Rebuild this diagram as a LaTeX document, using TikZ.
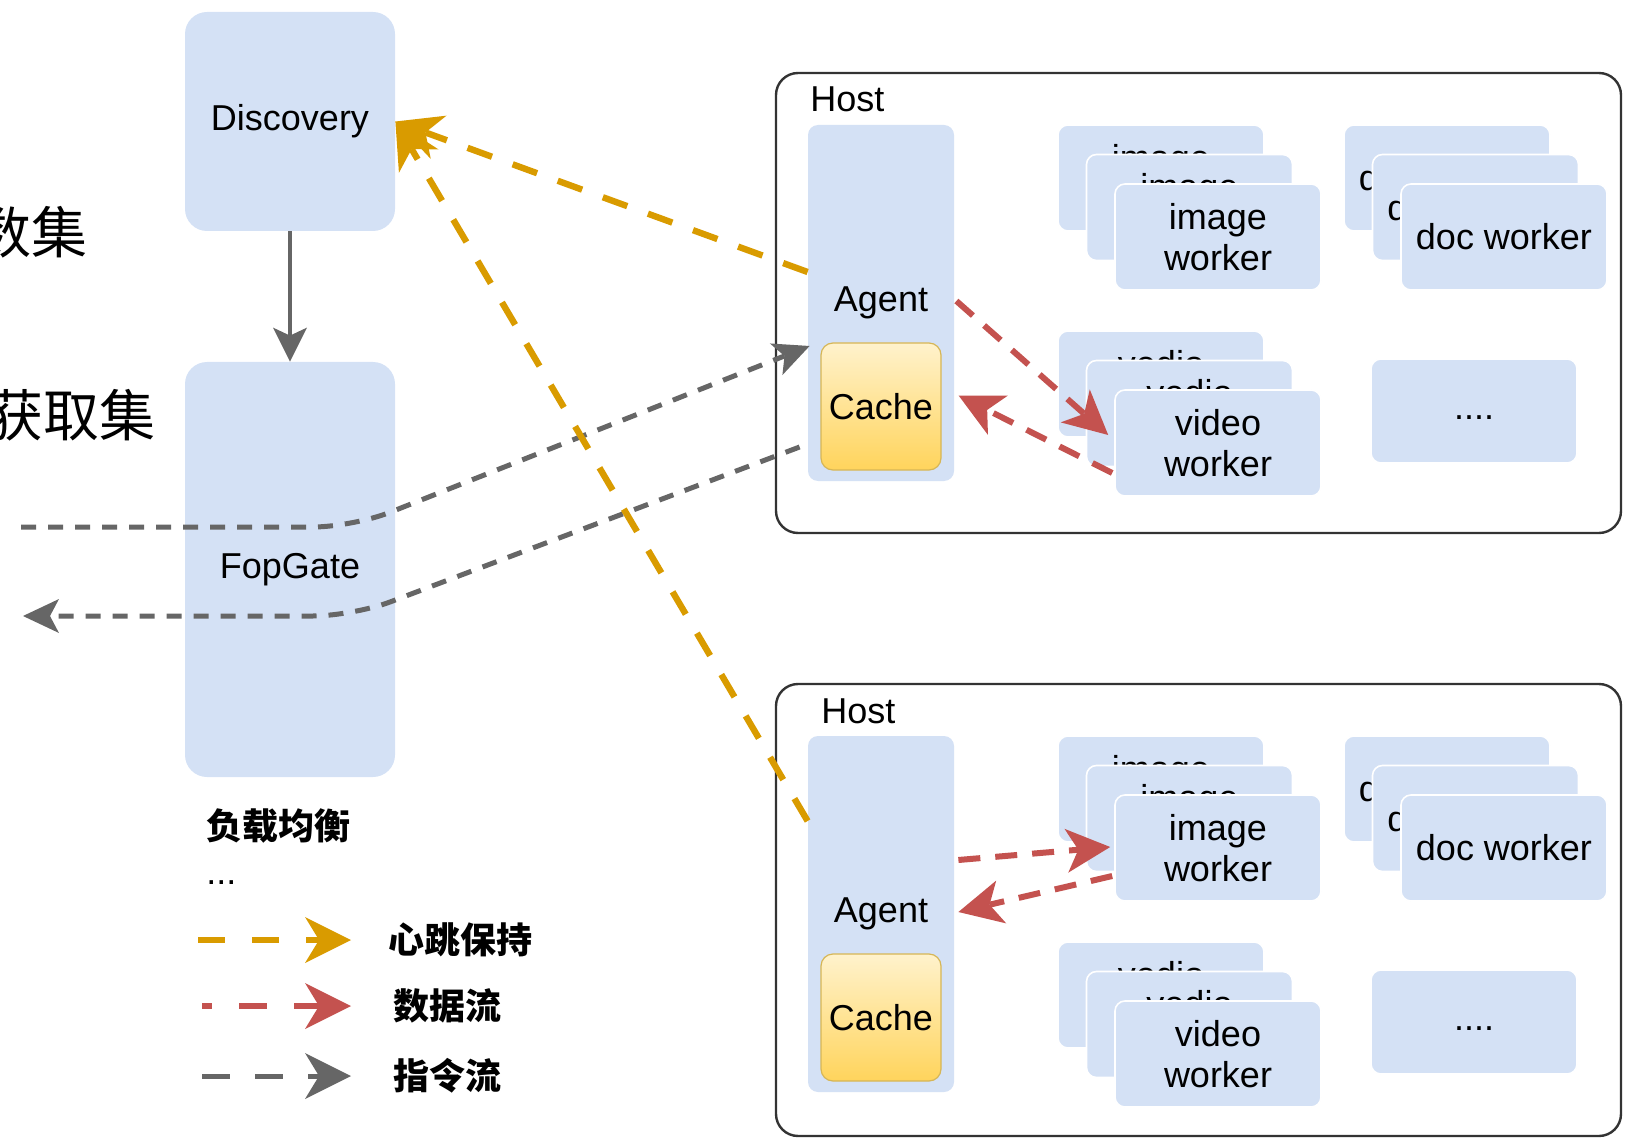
\documentclass[tikz,border=0pt]{standalone}
\usepackage{fontspec}
\setmainfont{Liberation Sans}
\newfontfamily\cjk{Noto Sans CJK SC}
\usetikzlibrary{arrows.meta,calc}

\definecolor{boxblue}{HTML}{D4E1F5}
\definecolor{hbyellow}{HTML}{D99B00}
\definecolor{datared}{HTML}{C4524F}
\definecolor{cmdgrey}{HTML}{666666}
\definecolor{cachetop}{HTML}{FFF2CC}
\definecolor{cachebot}{HTML}{FFD45C}
\definecolor{cacheline}{HTML}{D6B656}

\tikzset{
    box/.style = {rectangle, fill=boxblue, align=center},
    card/.style = {box, draw=white, line width=0.8pt, rounded corners=5pt,
        minimum width=103pt, minimum height=53pt},
    hostbox/.style = {rectangle, draw=black!80, line width=1.2pt, fill=white,
        rounded corners=11pt, minimum width=422.5pt},
    cachebox/.style = {rectangle, rounded corners=6pt, draw=cacheline, line width=0.6pt,
        top color=cachetop, bottom color=cachebot,
        minimum width=60pt, minimum height=63.5pt},
    cjktext/.style = {font=\cjk\bfseries\fontsize{18}{20}\selectfont},
    cjkbig/.style = {font=\cjk\fontsize{28}{30}\selectfont},
    bigtip/.style = {-{Stealth[length=23pt, width=23pt, inset=7pt, line width=0pt]}},
    heartbeat/.style = {draw=hbyellow, line width=3.2pt, dash pattern=on 13pt off 11pt,
        -{Stealth[length=23pt, width=23pt, inset=7pt, line width=0pt]}},
    dataflow/.style = {draw=datared, line width=3pt, dash pattern=on 11pt off 7.5pt,
        -{Stealth[length=22pt, width=22pt, inset=6pt, line width=0pt]}},
    cmdflow/.style = {draw=cmdgrey, line width=2.5pt, dash pattern=on 7.5pt off 6pt,
        -{Stealth[length=18pt, width=17pt, inset=4.5pt, line width=0pt]}}
}

\begin{document}
\begin{tikzpicture}[x=0.5pt, y=-0.5pt,
        every node/.style = {font=\fontsize{18}{20.5}\selectfont, inner sep=0pt}]
    \useasboundingbox (0,0) rectangle (1629,1139);

    % left column
    \node[cjkbig, anchor=east] (collect) at (88,232) {数集};
    \node[cjkbig, anchor=east] (fetch) at (156,415) {获取集};
    \node[box, rounded corners=11pt, minimum width=105pt, minimum height=109.5pt] (disc) at (290,121.5) {Discovery};
    \node[box, rounded corners=11pt, minimum width=105pt, minimum height=207.5pt] (fop) at (290,569.5) {FopGate};
    \draw[draw=cmdgrey, line width=2pt, -{Stealth[length=17pt, width=17pt, inset=4pt, line width=0pt]}] (disc) -- (fop);
    \node[cjktext, anchor=west] (balance) at (206,826) {负载均衡};
    \node[anchor=west] (etc) at (206,883) {...};

    % legend
    \node[cjktext, anchor=west] (lgHB) at (388,940) {心跳保持};
    \node[cjktext, anchor=west] (lgData) at (393,1006) {数据流};
    \node[cjktext, anchor=west] (lgCmd) at (393,1076) {指令流};
    \coordinate (lgHB0) at (198,940);
    \coordinate (lgData0) at (202,1006);
    \coordinate (lgCmd0) at (202,1076);
    \draw[heartbeat, dash pattern=on 13.5pt off 13.5pt] (lgHB0) -- ($(lgHB.west)+(-37,0)$);
    \draw[dataflow, dash pattern=on 14pt off 13.5pt, dash phase=9pt, bigtip] (lgData0) -- ($(lgData.west)+(-42,0)$);
    \draw[cmdflow, dash pattern=on 14pt off 12.5pt, bigtip] (lgCmd0) -- ($(lgCmd.west)+(-42,0)$);

    % upper host
    \node[hostbox, minimum height=230pt] (hostA) at (1198.5,303) {};
    \node[anchor=west] (hostAname) at (810,99) {Host};
    \node[box, rounded corners=5pt, minimum width=73pt, minimum height=178pt] (agentA) at (881,303) {Agent};
    \node[cachebox] (cacheA) at (881,406.5) {Cache};
    \node[card] (imgA1) at (1161,178) {image\\worker};
    \node[card] (imgA2) at (1189.5,207.5) {image\\worker};
    \node[card] (imgA3) at (1218,237) {image\\worker};
    \node[card] (docA1) at (1447,178) {doc worker};
    \node[card] (docA2) at (1475.5,207.5) {doc worker};
    \node[card] (docA3) at (1504,237) {doc worker};
    \node[card] (vidA1) at (1161,384) {vedio\\worker};
    \node[card] (vidA2) at (1189.5,413.5) {vedio\\worker};
    \node[card] (vidA3) at (1218,443) {video\\worker};
    \node[card, minimum height=52pt] (moreA) at (1474,411) {\strut....};

    % lower host
    \node[hostbox, minimum height=226pt] (hostB) at (1198.5,910) {};
    \node[anchor=west] (hostBname) at (821,711) {Host};
    \node[box, rounded corners=5pt, minimum width=73pt, minimum height=178pt] (agentB) at (881,914) {Agent};
    \node[cachebox] (cacheB) at (881,1017.5) {Cache};
    \node[card] (imgB1) at (1161,789) {image\\worker};
    \node[card] (imgB2) at (1189.5,818.5) {image\\worker};
    \node[card] (imgB3) at (1218,848) {image\\worker};
    \node[card] (docB1) at (1447,789) {doc worker};
    \node[card] (docB2) at (1475.5,818.5) {doc worker};
    \node[card] (docB3) at (1504,848) {doc worker};
    \node[card] (vidB1) at (1161,995) {vedio\\worker};
    \node[card] (vidB2) at (1189.5,1024.5) {vedio\\worker};
    \node[card] (vidB3) at (1218,1054) {video\\worker};
    \node[card, minimum height=52pt] (moreB) at (1474,1022) {\strut....};

    % command flow
    \coordinate (cmdIn) at (21,527);
    \coordinate (cmdOut) at (23,616);
    \draw[cmdflow, rounded corners=20pt] (cmdIn) -- (353,527) -- ($(agentA.west)+(2,43)$);
    \draw[cmdflow, rounded corners=20pt] ($(agentA.west)+(-8,144)$) -- (353,616) -- (cmdOut);

    % heartbeat
    \draw[heartbeat] ($(agentA.west)+(0,-31)$) -- (disc.east);
    \draw[heartbeat] ($(agentB.west)+(0,-93)$) -- (disc.east);

    % data flow
    \draw[dataflow] ($(agentA.east)+(2,-2)$) -- ($(vidA3.west)+(-6,-8)$);
    \draw[dataflow] ($(vidA3.west)+(-2,30)$) -- ($(cacheA.east)+(17,-11)$);
    \draw[dataflow] ($(agentB.east)+(4,-54)$) -- ($(imgB3.west)+(-4,-1)$);
    \draw[dataflow] ($(imgB3.west)+(-2,28)$) -- ($(agentB.east)+(4,-2)$);
\end{tikzpicture}
\end{document}
